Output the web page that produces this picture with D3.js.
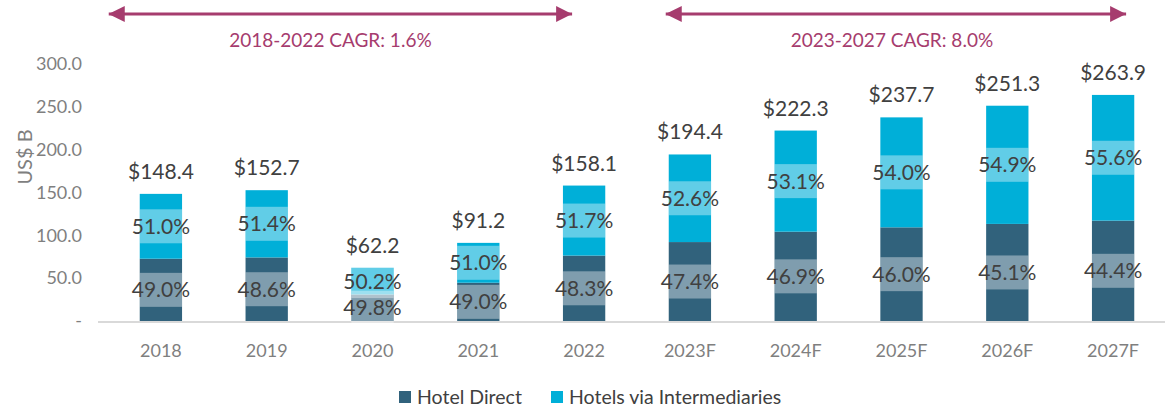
<!DOCTYPE html>
<html>
<head>
<meta charset="utf-8">
<script src="https://cdn.jsdelivr.net/npm/d3@7"></script>
<style>
	body { margin: 0; background: #fff; }
	svg text { font-family: Lato, "Open Sans", sans-serif; }
</style>
</head>
<body>
<svg id="chart" width="1165" height="410"></svg>
<script>
// data
var years = ["2018","2019","2020","2021","2022","2023F","2024F","2025F","2026F","2027F"];
var totals = [148.4, 152.7, 62.2, 91.2, 158.1, 194.4, 222.3, 237.7, 251.3, 263.9];
var directShare = [49.0, 48.6, 49.8, 49.0, 48.3, 47.4, 46.9, 46.0, 45.1, 44.4];
var interShare = [51.0, 51.4, 50.2, 51.0, 51.7, 52.6, 53.1, 54.0, 54.9, 55.6];
var yTicks = [0, 50, 100, 150, 200, 250, 300];
var seriesNames = ["Hotel Direct", "Hotels via Intermediaries"];
var cagrLabels = ["2018-2022 CAGR: 1.6%", "2023-2027 CAGR: 8.0%"];

var colors = ["#31627c", "#00afd8"];
var accent = "#a63c6e";

var svg = d3.select("#chart");

var x = d3.scaleBand().domain(years).range([108, 1166]).paddingInner(0.6).paddingOuter(0.3);
var y = d3.scaleLinear().domain([0, 300]).range([321, 64]);

//build stacked rows
var rows = years.map(function(yr, i){
	var d = totals[i] * directShare[i] / 100;
	var m = totals[i] * interShare[i] / 100;
	return {year: yr, total: totals[i], segs: [
		{y0: 0, y1: d, pct: directShare[i], c: colors[0]},
		{y0: d, y1: d + m, pct: interShare[i], c: colors[1]}
	]};
});

//y axis labels
svg.append("g").selectAll("text").data(yTicks).enter().append("text")
	.attr("x", 82).attr("y", function(d){ return y(d); })
	.attr("dy", "0.35em").attr("text-anchor", "end")
	.attr("fill", "#7f7f7f").style("font-size", "18px")
	.text(function(d){ return d === 0 ? "-" : d3.format(".1f")(d); });

svg.append("text")
	.attr("transform", "translate(32,157) rotate(-90)")
	.attr("text-anchor", "middle").attr("fill", "#7f7f7f")
	.style("font-size", "20px").text("US$ B");

//baseline
svg.append("line").attr("x1", 98).attr("x2", 1165)
	.attr("y1", y(0) + 1).attr("y2", y(0) + 1)
	.attr("stroke", "#d9d9d9").attr("stroke-width", 2);

//x labels
svg.append("g").selectAll("text").data(years).enter().append("text")
	.attr("x", function(d){ return x(d) + x.bandwidth() / 2; })
	.attr("y", 357).attr("text-anchor", "middle")
	.attr("fill", "#7f7f7f").style("font-size", "18px")
	.text(function(d){ return d; });

//bars
var bars = svg.append("g").selectAll("g").data(rows).enter().append("g");
bars.selectAll("rect").data(function(r){ return r.segs.map(function(s){ s.year = r.year; return s; }); })
	.enter().append("rect")
	.attr("x", function(s){ return x(s.year); })
	.attr("width", x.bandwidth())
	.attr("y", function(s){ return y(s.y1); })
	.attr("height", function(s){ return y(s.y0) - y(s.y1); })
	.attr("fill", function(s){ return s.c; });

//percentage labels with translucent boxes
var lab = bars.selectAll("g.lab").data(function(r){ return r.segs; }).enter().append("g").attr("class", "lab");
lab.append("rect")
	.attr("x", function(s){ return x(s.year); })
	.attr("width", x.bandwidth())
	.attr("y", function(s){ return y((s.y0 + s.y1) / 2) - 17; })
	.attr("height", 34)
	.attr("fill", "#fff").attr("fill-opacity", 0.38);
lab.append("text")
	.attr("x", function(s){ return x(s.year) + x.bandwidth() / 2; })
	.attr("y", function(s){ return y((s.y0 + s.y1) / 2); })
	.attr("dy", "0.36em").attr("text-anchor", "middle")
	.attr("fill", "#404040").style("font-size", "21px")
	.text(function(s){ return s.pct.toFixed(1) + "%"; });

//totals
bars.append("text")
	.attr("x", function(r){ return x(r.year) + x.bandwidth() / 2; })
	.attr("y", function(r){ return y(r.total) - 15; })
	.attr("text-anchor", "middle").attr("fill", "#404040")
	.style("font-size", "21px")
	.text(function(r){ return "$" + r.total.toFixed(1); });

//CAGR arrows
var defs = svg.append("defs");
["s", "e"].forEach(function(k){
	defs.append("marker").attr("id", "arr" + k)
		.attr("viewBox", "0 0 16 16").attr("refX", k == "e" ? 16 : 0).attr("refY", 8)
		.attr("markerWidth", 16).attr("markerHeight", 16)
		.attr("markerUnits", "userSpaceOnUse").attr("orient", "auto")
		.append("path").attr("d", k == "e" ? "M0,0L16,8L0,16Z" : "M16,0L0,8L16,16Z")
		.attr("fill", accent);
});
var spans = [
	{a: x("2018") - 31, b: x("2022") + x.bandwidth() / 2 - 12, dx: -10, label: cagrLabels[0]},
	{a: x("2023F") - 3, b: x("2027F") + x.bandwidth() / 2 + 13, dx: -4, label: cagrLabels[1]}
];
spans.forEach(function(s){
	svg.append("line").attr("x1", s.a).attr("x2", s.b).attr("y1", 14).attr("y2", 14)
		.attr("stroke", accent).attr("stroke-width", 3)
		.attr("marker-start", "url(#arrs)").attr("marker-end", "url(#arre)");
	svg.append("text").attr("x", (s.a + s.b) / 2 + s.dx).attr("y", 47)
		.attr("text-anchor", "middle").attr("fill", accent)
		.style("font-size", "19px").text(s.label);
});

//legend
var leg = svg.append("g").attr("transform", "translate(399,391)");
var lx = [0, 152];
seriesNames.forEach(function(n, i){
	leg.append("rect").attr("x", lx[i]).attr("y", 0).attr("width", 12).attr("height", 12).attr("fill", colors[i]);
	leg.append("text").attr("x", lx[i] + 18).attr("y", 13).attr("fill", "#404040")
		.style("font-size", "19.5px").text(n);
});
</script>
</body>
</html>
